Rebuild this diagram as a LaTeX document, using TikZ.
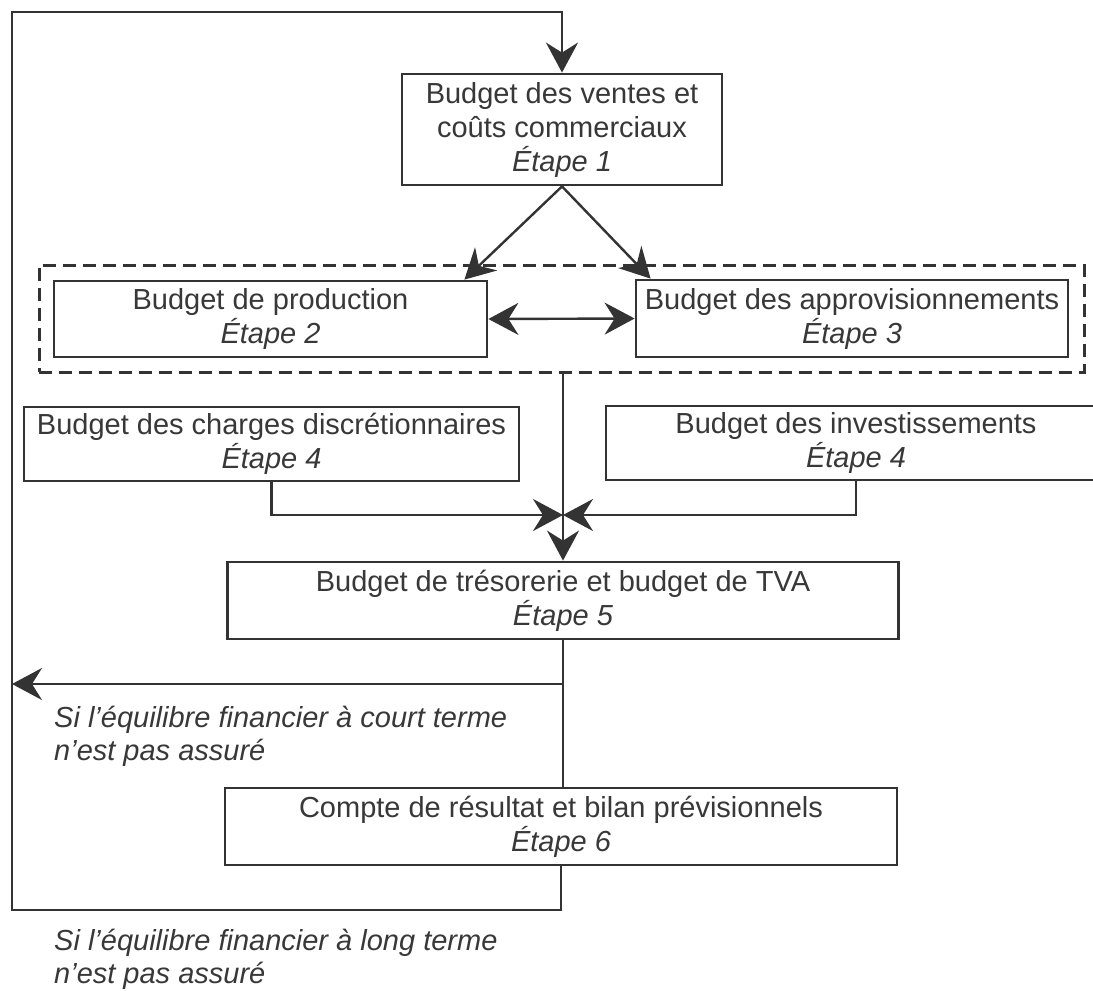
\documentclass[tikz,border=0pt]{standalone}
\usepackage{fontspec}
\setmainfont{Liberation Sans}
\usetikzlibrary{arrows.meta}
\begin{document}
\begin{tikzpicture}[x=1pt,y=-1pt,
  box/.style={draw=black!80, line width=2.8pt, text=black!78, align=center, inner sep=0pt,
              font=\fontsize{29}{34}\selectfont},
  grpbox/.style={draw=black!80, line width=3pt, dash pattern=on 13pt off 7pt, inner sep=0pt},
  conn/.style={draw=black!80, line width=2.4pt},
  tip/.tip={Stealth[length=30pt,width=32pt,inset=10pt]},
  arr/.style={conn, -tip},
  lab/.style={text=black!78, align=left, inner sep=0pt, anchor=north west,
              font=\fontsize{29}{33}\selectfont\itshape}]
\useasboundingbox (0,0) rectangle (1093,991);
\clip (0,0) rectangle (1093,991);
\fill[white] (0,0) rectangle (1093,991);

% boxes
\node[box, minimum width=320pt, minimum height=111pt] (b1) at (562,129.5)
  {Budget des ventes et\\coûts commerciaux\\\textit{Étape 1}};
\node[grpbox, minimum width=1045pt, minimum height=107pt] (grp) at (561.5,318.5) {};
\node[box, minimum width=433pt, minimum height=76pt] (b2) at (270.5,319)
  {Budget de production\\\textit{Étape 2}};
\node[box, minimum width=432pt, minimum height=77pt] (b3) at (852,318.5)
  {Budget des approvisionnements\\\textit{Étape 3}};
\node[box, minimum width=495pt, minimum height=74pt] (b4a) at (271.5,444)
  {Budget des charges discrétionnaires\\\textit{Étape 4}};
\node[box, minimum width=500pt, minimum height=74pt] (b4b) at (856,443)
  {Budget des investissements\\\textit{Étape 4}};
\node[box, minimum width=671pt, minimum height=77pt] (b5) at (563,600.5)
  {Budget de trésorerie et budget de TVA\\\textit{Étape 5}};
\node[box, minimum width=672pt, minimum height=77pt] (b6) at (561,826.5)
  {Compte de résultat et bilan prévisionnels\\\textit{Étape 6}};

% labels
\node[lab] (l1) at (54,706) {Si l'équilibre financier à court terme\\n'est pas assuré};
\node[lab] (l2) at (54,929) {Si l'équilibre financier à long terme\\n'est pas assuré};

% coordinates
\coordinate (j) at (563,515);
\coordinate (s1) at (563,684);
\coordinate (c3) at (12,684);
\coordinate (c1) at (12,910);
\coordinate (c2) at (12,12);

% connectors
\draw[arr] (b1.south) -- ([xshift=-24pt]b2.north east);
\draw[arr] (b1.south) -- ([xshift=16pt]b3.north west);
\draw[conn, tip-tip] (b2.east) -- (b3.west);
\draw[arr] (grp.south -| j) -- (j |- b5.north);
\draw[arr] (b4a.south) |- (j);
\draw[arr] (b4b.south) |- (j);
\draw[conn] (b5.south -| j) -- (j |- b6.north);
\draw[arr] (s1) -- (c3);
\draw[arr] (b6.south) |- (c1) -- (c2) -| (b1.north);
\end{tikzpicture}
\end{document}
